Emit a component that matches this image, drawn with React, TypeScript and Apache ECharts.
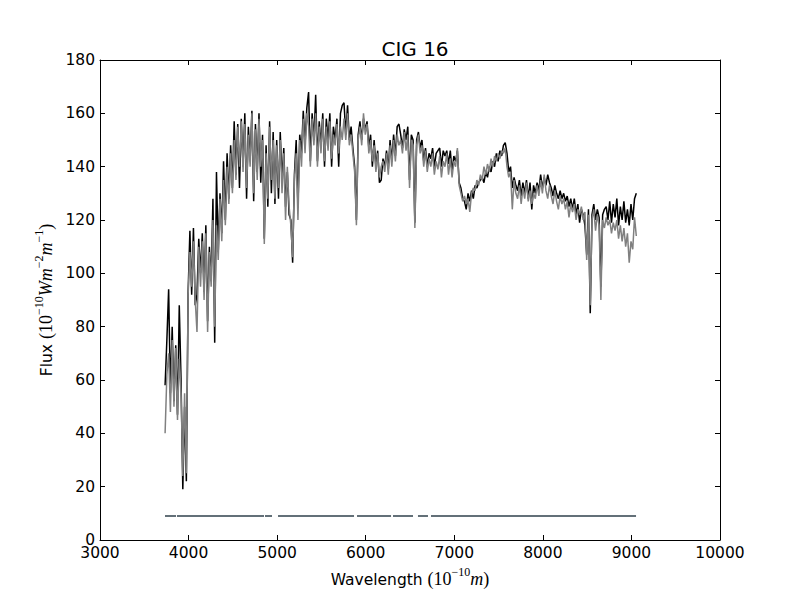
import React, { useEffect, useRef } from "react";
import * as echarts from "echarts";

// Spectrum sampled on a regular wavelength grid (Angstrom)
const WL_START = 3735;
const WL_STEP = 20;

// Observed flux (black)
const BLACK_FLUX = [
  58, 75, 94, 55, 80, 52, 73, 47, 88, 60,
  19, 50, 22, 93, 116, 92, 117, 88, 92, 113,
  100, 115, 93, 118, 82, 110, 97, 128, 74, 138,
  108, 130, 115, 142, 120, 145, 128, 148, 132, 157,
  137, 156, 132, 158, 140, 160, 128, 155, 142, 161,
  127, 156, 138, 160, 134, 152, 113, 148, 125, 157,
  130, 153, 126, 150, 128, 153, 135, 147, 125, 138,
  122, 120, 104, 137, 150, 125, 152, 145, 161, 148,
  162, 168, 142, 160, 150, 167, 142, 157, 148, 160,
  140, 158, 150, 160, 140, 155, 150, 158, 140, 160,
  163, 164, 152, 163, 150, 155, 147, 140, 120, 152,
  157, 150, 158, 154, 157, 147, 152, 140, 150, 140,
  146, 134, 135, 143, 140, 146, 139, 150, 142, 152,
  144, 155, 156, 152, 147, 154, 150, 155, 135, 152,
  150, 119, 150, 153, 147, 150, 142, 147, 140, 145,
  143, 147, 140, 145, 146, 147, 140, 146, 144, 146,
  141, 146, 138, 144, 142, 146, 134, 132, 128, 127,
  124, 130, 127, 131, 128, 133, 132, 134, 135, 136,
  134, 138, 136, 140, 138, 142, 140, 145, 142, 146,
  144, 148, 149, 145, 138, 140, 132, 136, 133, 131,
  135, 129, 134, 130, 135, 128, 134, 124, 133, 130,
  134, 131, 137, 132, 136, 133, 137, 134, 132, 129,
  133, 130, 128, 131, 128, 130, 127, 129, 125, 128,
  124, 128, 122, 126, 119, 124, 122, 118, 107, 124,
  85, 122, 126, 120, 124, 121, 95, 122, 124, 125,
  120, 127, 119, 126, 121, 128, 118, 125, 120, 127,
  119, 124, 118, 126, 120, 128, 130,
];

// Model / synthetic flux (gray)
const GRAY_FLUX = [
  40, 62, 70, 48, 75, 50, 72, 45, 68, 55,
  24, 55, 25, 92, 108, 95, 112, 90, 78, 110,
  95, 112, 90, 115, 78, 108, 95, 120, 80, 118,
  105, 128, 112, 135, 118, 140, 126, 145, 130, 150,
  135, 155, 140, 157, 138, 156, 132, 152, 140, 160,
  130, 154, 135, 158, 140, 150, 111, 145, 128, 155,
  135, 150, 128, 148, 132, 150, 130, 145, 120, 140,
  125, 118, 106, 135, 145, 120, 150, 140, 158, 145,
  160, 155, 140, 158, 148, 160, 140, 155, 145, 158,
  142, 155, 146, 157, 143, 152, 148, 156, 145, 155,
  150, 158, 150, 160, 148, 152, 145, 138, 118, 150,
  155, 148, 160, 152, 156, 145, 150, 142, 148, 138,
  145, 136, 140, 142, 138, 145, 137, 148, 140, 150,
  142, 152, 148, 150, 145, 153, 146, 152, 132, 150,
  148, 117, 148, 152, 145, 148, 140, 146, 138, 143,
  140, 145, 137, 142, 139, 144, 136, 142, 140, 145,
  137, 143, 136, 142, 140, 147, 133, 130, 127, 129,
  126, 128, 123, 130, 132, 131, 135, 133, 137, 135,
  140, 137, 141, 138, 143, 140, 144, 142, 145, 143,
  146, 145, 147, 140, 136, 138, 124, 135, 130, 128,
  133, 126, 132, 128, 134, 127, 131, 126, 130, 128,
  133, 129, 135, 130, 137, 131, 128, 133, 129, 126,
  131, 127, 124, 129, 126, 128, 124, 127, 121, 126,
  123, 126, 120, 124, 122, 125, 120, 123, 105, 122,
  88, 120, 124, 116, 122, 118, 90, 120, 117, 121,
  118, 120, 115, 119, 116, 120, 113, 118, 112, 117,
  110, 115, 104, 112, 109, 121, 114,
];

// Good-pixel mask segments (wavelength ranges), drawn at a constant level
const MASK_SEGMENTS = [
  [3734, 3858],
  [3869, 4852],
  [4863, 4942],
  [5010, 5868],
  [5902, 6286],
  [6308, 6534],
  [6590, 6703],
  [6737, 9052],
];
const MASK_LEVEL = 9;

const X_TICKS = { min: 3000, max: 10000, interval: 1000 };
const Y_TICKS = { min: 0, max: 180, interval: 20 };

const SANS = "DejaVu Sans";
const SERIF = "Liberation Serif";

export default function App() {
  const ref = useRef<HTMLDivElement>(null);

  useEffect(() => {
    document.body.style.margin = "0";
    if (!ref.current) return;
    const chart = echarts.init(ref.current, undefined, { renderer: "svg" });

    const toXY = (arr: number[]) => arr.map((v, i) => [WL_START + i * WL_STEP, v]);
    const maskData: any[] = [];
    MASK_SEGMENTS.forEach((s, k) => {
      if (k > 0) maskData.push([(MASK_SEGMENTS[k - 1][1] + s[0]) / 2, "-"]);
      maskData.push([s[0], MASK_LEVEL]);
      maskData.push([s[1], MASK_LEVEL]);
    });

    const tick = { show: true, inside: true, length: 5, lineStyle: { color: "#000", width: 1 } };
    const axisLine = { show: true, onZero: false, lineStyle: { color: "#000", width: 1 } };
    const label = {
      color: "#000",
      fontFamily: SANS,
      fontSize: 15.5,
      formatter: (v: number) => String(v),
    };

    const nameRich = {
      a: { fontFamily: SANS, fontSize: 15.5, color: "#000", lineHeight: 22, verticalAlign: "bottom" },
      b: { fontFamily: SERIF, fontSize: 18, color: "#000", lineHeight: 22, verticalAlign: "bottom" },
      c: { fontFamily: SERIF, fontSize: 12, color: "#000", lineHeight: 22, verticalAlign: "top" },
      d: { fontFamily: SERIF, fontStyle: "italic", fontSize: 18, color: "#000", lineHeight: 22, verticalAlign: "bottom" },
    };

    chart.setOption({
      animation: false,
      backgroundColor: "#fff",
      title: {
        text: "CIG 16",
        left: 410,
        top: 34,
        textAlign: "center",
        textStyle: { fontFamily: SANS, fontSize: 20, fontWeight: "normal", color: "#000" },
      },
      grid: { left: 100, right: 80, top: 60, bottom: 60, containLabel: false },
      xAxis: [
        {
          type: "value",
          ...X_TICKS,
          position: "bottom",
          axisLine,
          axisTick: tick,
          splitLine: { show: false },
          axisLabel: { ...label, margin: 5 },
          name: "{a|Wavelength }{b|(10}{c|−10}{d|m}{b|)}",
          nameLocation: "middle",
          nameGap: 26,
          nameTextStyle: { rich: nameRich },
        },
        {
          type: "value",
          ...X_TICKS,
          position: "top",
          axisLine,
          axisTick: tick,
          splitLine: { show: false },
          axisLabel: { show: false },
        },
      ],
      yAxis: [
        {
          type: "value",
          ...Y_TICKS,
          position: "left",
          axisLine,
          axisTick: tick,
          splitLine: { show: false },
          axisLabel: { ...label, margin: 5 },
          name: "{a|Flux }{b|(10}{c|−10}{d|Wm}{c|−2}{d|m}{c|−1}{b|)}",
          nameLocation: "middle",
          nameGap: 44,
          nameRotate: 90,
          nameTextStyle: { rich: nameRich },
        },
        {
          type: "value",
          ...Y_TICKS,
          position: "right",
          axisLine,
          axisTick: tick,
          splitLine: { show: false },
          axisLabel: { show: false },
        },
      ],
      series: [
        {
          type: "line",
          name: "observed",
          data: toXY(BLACK_FLUX),
          showSymbol: false,
          symbol: "none",
          lineStyle: { color: "#000000", width: 1.5 },
          z: 2,
        },
        {
          type: "line",
          name: "model",
          data: toXY(GRAY_FLUX),
          showSymbol: false,
          symbol: "none",
          lineStyle: { color: "#808080", width: 1.5 },
          z: 3,
        },
        {
          type: "line",
          name: "mask",
          data: maskData,
          showSymbol: false,
          symbol: "none",
          connectNulls: false,
          lineStyle: { color: "#637078", width: 2 },
          z: 1,
        },
      ],
    });

    return () => chart.dispose();
  }, []);

  return <div ref={ref} style={{ width: 800, height: 600 }} />;
}
